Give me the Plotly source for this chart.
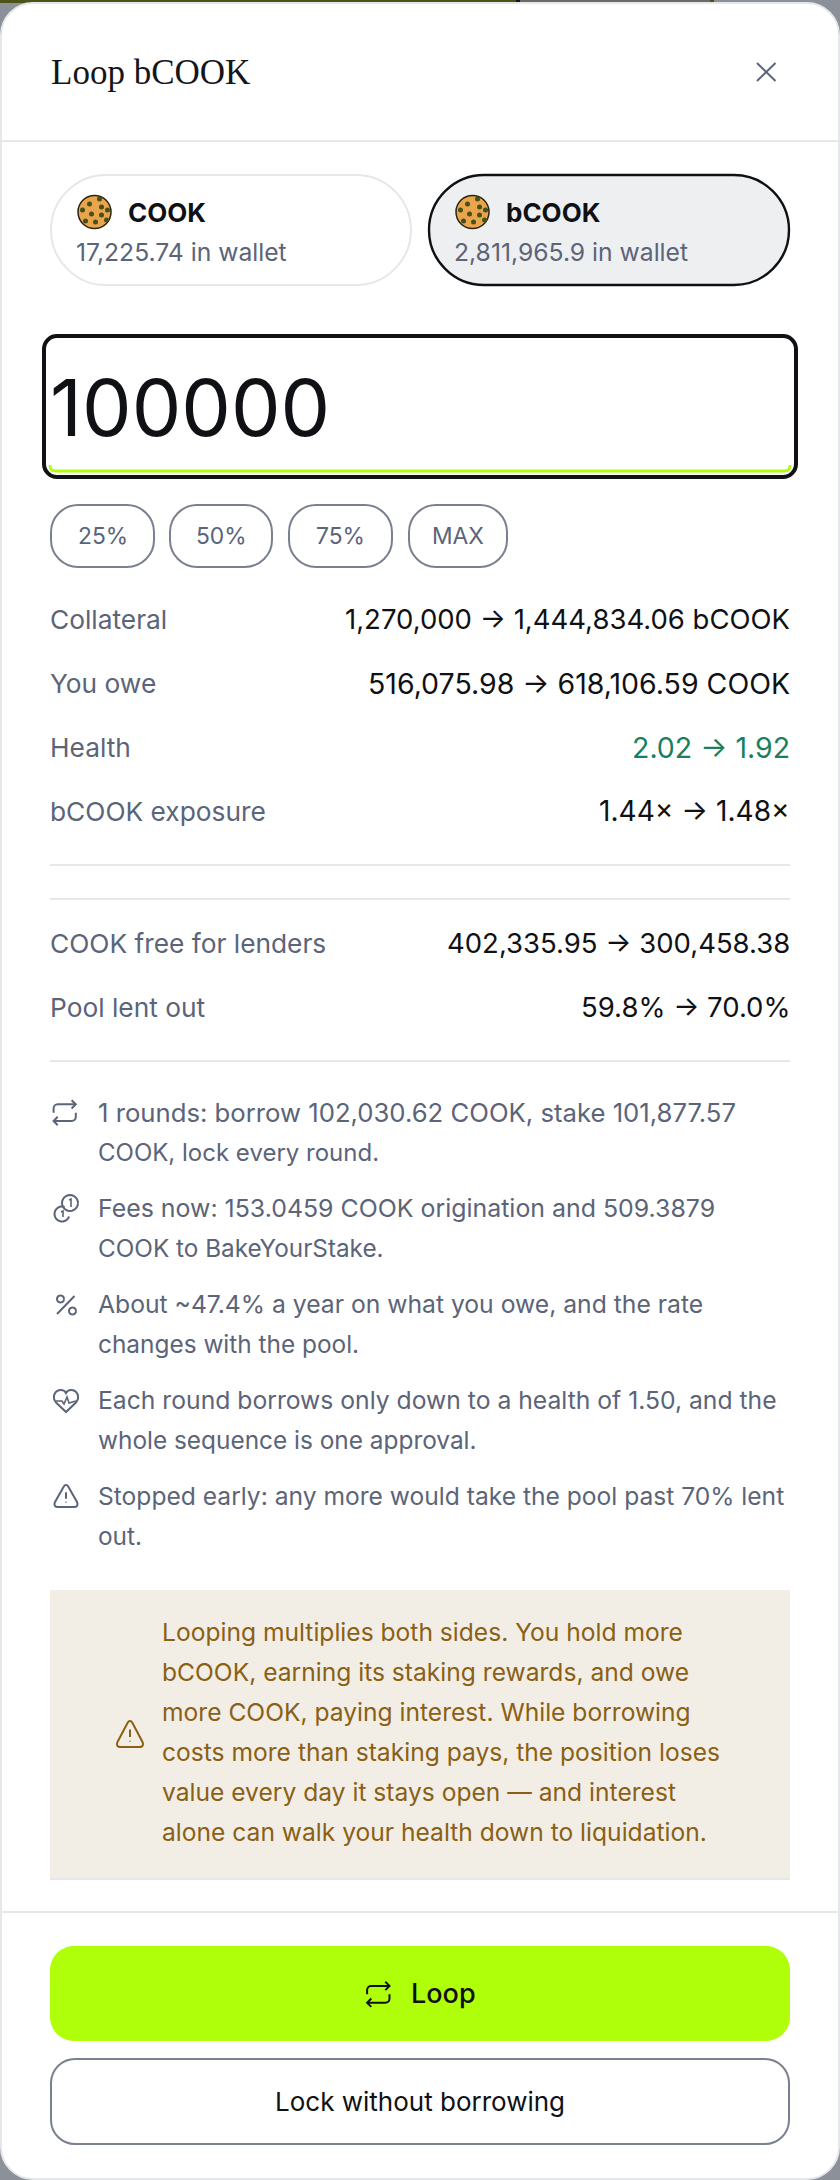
# Loop bCOOK dialog drawn with Plotly shapes and annotations, on a pixel axis
import math
import plotly.graph_objects as go

W, H = 840, 2180
SANS = "Inter"
SERIF = "Liberation Serif"

INK = "#0f1115"
SLATE = "#5b6478"
RULE = "#e5e7eb"
EDGE = "#7a8090"
LIME = "#b0ff0a"
GREEN = "#1a7f5f"
AMBER = "#8a6014"

title = "Loop bCOOK"
tokens = ["COOK", "bCOOK"]
balances = ["17,225.74 in wallet", "2,811,965.9 in wallet"]
amount = "100000"
quick_picks = ["25%", "50%", "75%", "MAX"]

position_labels = ["Collateral", "You owe", "Health", "bCOOK exposure"]
position_values = [
    "1,270,000 → 1,444,834.06 bCOOK",
    "516,075.98 → 618,106.59 COOK",
    "2.02 → 1.92",
    "1.44× → 1.48×",
]
pool_labels = ["COOK free for lenders", "Pool lent out"]
pool_values = ["402,335.95 → 300,458.38", "59.8% → 70.0%"]

notes = [
    ["1 rounds: borrow 102,030.62 COOK, stake 101,877.57", "COOK, lock every round."],
    ["Fees now: 153.0459 COOK origination and 509.3879", "COOK to BakeYourStake."],
    ["About ~47.4% a year on what you owe, and the rate", "changes with the pool."],
    ["Each round borrows only down to a health of 1.50, and the", "whole sequence is one approval."],
    ["Stopped early: any more would take the pool past 70% lent", "out."],
]
warning = [
    "Looping multiplies both sides. You hold more",
    "bCOOK, earning its staking rewards, and owe",
    "more COOK, paying interest. While borrowing",
    "costs more than staking pays, the position loses",
    "value every day it stays open — and interest",
    "alone can walk your health down to liquidation.",
]
primary_action = "Loop"
secondary_action = "Lock without borrowing"

# Inter is not the original face, so lines are sized one by one to fill the same width
note_sizes = [[25.7, 24], [24.9, 24.3], [24.7, 24.4], [24.7, 24.4], [24.6, 24.4]]
position_sizes = [27.5, 28.5, 28.5, 28.1]

fig = go.Figure()


def rrect(x0, y0, x1, y1, r, fill=None, line=None, width=0):
    k = r * 0.45
    p = (f"M {x0+r},{y0} L {x1-r},{y0} C {x1-k},{y0} {x1},{y0+k} {x1},{y0+r} "
         f"L {x1},{y1-r} C {x1},{y1-k} {x1-k},{y1} {x1-r},{y1} "
         f"L {x0+r},{y1} C {x0+k},{y1} {x0},{y1-k} {x0},{y1-r} "
         f"L {x0},{y0+r} C {x0},{y0+k} {x0+k},{y0} {x0+r},{y0} Z")
    stroke(p, line, width, fill)


def stroke(path, color, width=2, fill=None):
    fig.add_shape(type="path", path=path, layer="below",
                  fillcolor=fill or "rgba(0,0,0,0)",
                  line=dict(color=color or "rgba(0,0,0,0)", width=width))


def rect(x0, y0, x1, y1, fill):
    fig.add_shape(type="rect", x0=x0, y0=y0, x1=x1, y1=y1, layer="below",
                  fillcolor=fill, line=dict(width=0))


def arc(cx, cy, r, a0, a1):
    n = max(int(abs(a1 - a0) / 15), 4)
    pts = []
    for i in range(n + 1):
        a = math.radians(a0 + (a1 - a0) * i / n)
        pts.append(f"{cx + r * math.cos(a):.2f},{cy + r * math.sin(a):.2f}")
    return "M " + " L ".join(pts)


def text(x, base, s, size, color, anchor="left", family=SANS, weight=400):
    # annotations are placed by their middle, so shift up from the baseline
    pad = {"left": -2, "right": 2, "center": 0}[anchor]
    fig.add_annotation(x=x + pad, y=base - size * 0.35 - 1, text=s, showarrow=False,
                       xanchor=anchor, yanchor="middle", align=anchor,
                       font=dict(family=family, size=size, color=color, weight=weight))


def repeat_icon(x0, y0, s, color):
    px = lambda x, y: f"{x0 + x * s:.1f},{y0 + y * s:.1f}"
    stroke(f"M {px(4,12)} L {px(4,9)} C {px(4,7.3)} {px(5.3,6)} {px(7,6)} L {px(20,6)}", color)
    stroke(f"M {px(17,3)} L {px(20,6)} L {px(17,9)}", color)
    stroke(f"M {px(20,12)} L {px(20,15)} C {px(20,16.7)} {px(18.7,18)} {px(17,18)} L {px(4,18)}", color)
    stroke(f"M {px(7,21)} L {px(4,18)} L {px(7,15)}", color)


def warn_icon(cx, top, w, h, color):
    b = top + h
    stroke(f"M {cx-2.5},{top+2} C {cx-1},{top-0.6} {cx+1},{top-0.6} {cx+2.5},{top+2} "
           f"L {cx+w/2-1},{b-5} C {cx+w/2+0.5},{b-2} {cx+w/2-1},{b} {cx+w/2-4},{b} "
           f"L {cx-w/2+4},{b} C {cx-w/2+1},{b} {cx-w/2-0.5},{b-2} {cx-w/2+1},{b-5} Z", color)
    stroke(f"M {cx},{top+h*0.33} L {cx},{top+h*0.62}", color)
    stroke(f"M {cx},{top+h*0.76} L {cx},{top+h*0.79}", color)


# page behind the dialog
rect(0, 0, 516, 3, "#4a5416")
rect(516, 0, 520, 3, "#15161a")
rect(520, 0, 710, 3, "#6b6b6b")
rect(710, 0, 714, 3, "#4a5416")

# dialog
rrect(1, 3, 839, 2179, 32, fill="white", line=RULE, width=2)
rect(2, 140, 838, 142, RULE)
rect(2, 1911, 838, 1913, RULE)

text(50.5, 86, title, 35, "#14161a", family=SERIF)
stroke("M 757,63 L 775.5,81", SLATE)
stroke("M 775.5,63 L 757,81", SLATE)

# token pills
rrect(51, 175, 411, 285, 55, fill="white", line=RULE, width=2)
rrect(429, 175, 789, 285, 55, fill="#eeeff1", line=INK, width=2.4)
chip_dx = [-5, 5, 7, -12, -3, 7, -9, 1, 13, 12]
chip_dy = [-8, -13, -5, -2, 2, 3, 9, 10, -2, 8]
for cx, label, bal, tx in zip([94.5, 472.5], tokens, balances, [75.5, 453.5]):
    fig.add_shape(type="circle", x0=cx-16.5, y0=195.5, x1=cx+16.5, y1=228.5, layer="below",
                  fillcolor="#e8a54b", line=dict(color="#2b2410", width=1.5))
    fig.add_trace(go.Scatter(x=[cx + d for d in chip_dx], y=[212 + d for d in chip_dy],
                             mode="markers", hoverinfo="skip",
                             marker=dict(size=5, color="#46501a")))
    text(tx + 52, 222.5, label, 26, INK, weight=700)
    text(tx, 261.5, bal, 24.7, SLATE)

# amount input
rrect(44, 336, 796, 477, 13, fill="white", line=INK, width=4)
stroke("M 50,465 C 50,470 52,471 56,471 L 784,471 C 788,471 790,470 790,465", LIME, 3)
text(50, 436, amount, 78.7, INK)

# quick picks
for (x0, x1), label in zip([(51, 154), (170, 272), (289, 392), (409, 507)], quick_picks):
    rrect(x0, 505, x1, 567, 27, fill="white", line=EDGE, width=2)
    text((x0 + x1) / 2, 544, label, 22.8, SLATE, anchor="center")

# position rows
for label, value, size, base in zip(position_labels, position_values, position_sizes, [630, 694, 758, 822]):
    text(50, base, label, 26.3, SLATE)
    text(790, base, value, size, GREEN if label == "Health" else INK, anchor="right")
rect(50, 864, 790, 866, RULE)
rect(50, 898, 790, 900, RULE)
for label, value, base in zip(pool_labels, pool_values, [954, 1018]):
    text(50, base, label, 26.3, SLATE)
    text(790, base, value, 27.5, INK, anchor="right")
rect(50, 1060, 790, 1062, RULE)

# notes, one block every 96 px
for i, lines in enumerate(notes):
    for j, line in enumerate(lines):
        text(98, 1122 + 96 * i + 40 * j, line, note_sizes[i][j], SLATE)

repeat_icon(48, 1096, 1.39, SLATE)

stroke(arc(70, 1203, 8, 0, 360), SLATE)
stroke("M 69,1200 L 71,1199 L 71,1207", SLATE, 1.6)
stroke(arc(62, 1214, 7.5, 20, 290), SLATE)
stroke("M 61,1212 L 63,1211 L 63,1217", SLATE, 1.6)

stroke("M 74.5,1296 L 57,1314", SLATE)
stroke(arc(60.5, 1299, 3.5, 0, 360), SLATE)
stroke(arc(72.5, 1311, 3.5, 0, 360), SLATE)

stroke("M 66,1412 L 56.5,1403 C 51,1397 55,1390 61,1390 C 63,1390 65,1391 66,1393 "
       "C 67,1391 69,1390 71,1390 C 77,1390 81,1397 75.5,1403 Z", SLATE)
stroke("M 56,1401 L 62,1401 L 64,1404 L 67,1397 L 69,1403 L 76,1401", SLATE, 1.6)

warn_icon(66, 1485, 24, 22, SLATE)

# warning banner
rect(50, 1590, 790, 1878, "#f2eee6")
rect(50, 1878, 790, 1880, RULE)
for i, line in enumerate(warning):
    text(162, 1642 + 40 * i, line, 24.6, AMBER)
warn_icon(130, 1721, 27, 26, AMBER)

# actions
rrect(50, 1946, 790, 2041, 24, fill=LIME)
repeat_icon(361.5, 1977.5, 1.4, INK)
text(411, 2004, primary_action, 27, INK, weight=500)
rrect(51, 2059, 789, 2144, 24, fill="white", line=EDGE, width=2)
text(420, 2112, secondary_action, 26, INK, anchor="center")

fig.update_layout(
    width=W, height=H, margin=dict(l=0, r=0, t=0, b=0),
    paper_bgcolor="#8c9099", plot_bgcolor="#8c9099",
    showlegend=False, hovermode=False,
    xaxis=dict(visible=False, range=[0, W], fixedrange=True),
    yaxis=dict(visible=False, range=[H, 0], fixedrange=True),
)

fig.write_html("out.html", config=dict(displayModeBar=False),
               post_script="document.body.style.margin='0';document.body.style.overflow='hidden';")
